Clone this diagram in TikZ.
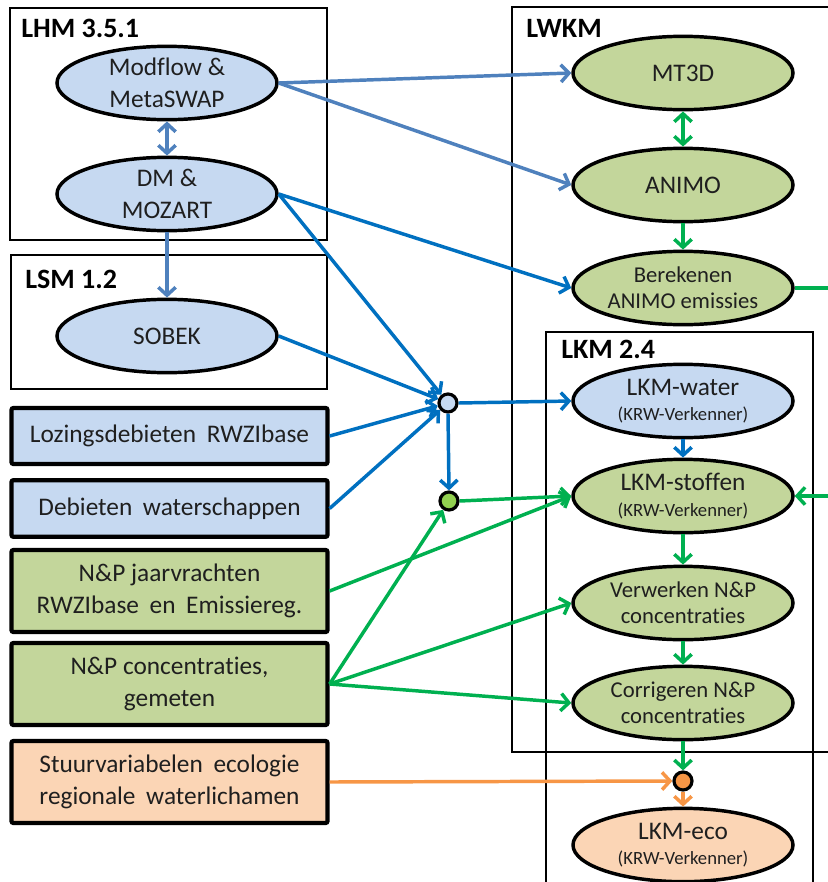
\documentclass[tikz,border=0pt]{standalone}
\usepackage{fontspec}
\setmainfont{Carlito}[Ligatures={NoCommon}]
\usetikzlibrary{shapes.geometric,arrows.meta}
\definecolor{fblue}{RGB}{198,217,241}
\definecolor{fgreen}{RGB}{195,214,155}
\definecolor{forange}{RGB}{251,213,181}
\definecolor{lblue}{RGB}{79,129,189}
\definecolor{lblue2}{RGB}{0,112,192}
\definecolor{lgreen}{RGB}{0,176,80}
\definecolor{lorange}{RGB}{247,150,70}
\definecolor{dgreen}{RGB}{146,208,80}
\newcommand{\ws}{\hspace{0.42em}}
\begin{document}
\begin{tikzpicture}[x=0.75pt,y=-0.75pt,
  ell/.style={ellipse, draw=black, line width=2.6pt, minimum width=165pt, minimum height=55pt, inner sep=0pt},
  ebl/.style={ell, fill=fblue},
  egr/.style={ell, fill=fgreen},
  eor/.style={ell, fill=forange},
  etxt/.style={inner sep=0pt, align=center, text=black!88, font=\fontsize{19}{24}\selectfont},
  etxs/.style={inner sep=0pt, align=center, text=black!88, font=\fontsize{17}{19.5}\selectfont},
  inbox/.style={rectangle, draw=black, line width=3.2pt, rounded corners=1.5pt, minimum width=237pt, inner sep=0pt, align=center, text=black!88, font=\fontsize{19}{24.5}\selectfont},
  frame/.style={draw=black, line width=1.6pt},
  flab/.style={font=\bfseries\fontsize{21}{24}\selectfont, anchor=base west, inner sep=0pt},
  dot/.style={circle, draw=black, line width=2.4pt, minimum size=13.5pt, inner sep=0pt},
  arw/.style={line width=2.6pt, -{Straight Barb[length=6pt,width=13pt]}},
  arw2/.style={line width=2.6pt, {Straight Barb[length=6pt,width=13pt]}-{Straight Barb[length=6pt,width=13pt]}},
  cb1/.style={draw=lblue},
  cb2/.style={draw=lblue2},
  cg/.style={draw=lgreen},
  co/.style={draw=lorange}
]
\useasboundingbox (0,0) rectangle (828,882);

% frames
\draw[frame] (10,8) rectangle (327,240);
\draw[frame] (11,255) rectangle (327,389);
\draw[frame] (512,7) rectangle (845,752);
\draw[frame] (546,332) rectangle (813,900);
\node[flab] (lhm) at (21,37) {LHM 3.5.1};
\node[flab] (lsm) at (25,288) {LSM 1.2};
\node[flab] (lwkm) at (526,37) {LWKM};
\node[flab] (lkm) at (561,358) {LKM 2.4};

% left ellipses
\node[ebl] (mod) at (167,83) {};
\node[etxt] (modt) at (mod) {Modflow \&\\MetaSWAP};
\node[ebl] (dm) at (167,194) {};
\node[etxt] (dmt) at (dm) {DM \&\\MOZART};
\node[ebl] (sobek) at (167,336) {};
\node[etxt] (sobekt) at (sobek) {SOBEK};

% input boxes
\node[inbox, fill=fblue, minimum height=42pt] (loz) at (169.5,436) {Lozingsdebieten\ws RWZIbase};
\node[inbox, fill=fblue, minimum height=42.5pt] (deb) at (169.5,508.5) {Debieten\ws waterschappen};
\node[inbox, fill=fgreen, minimum height=61.5pt] (npj) at (169.5,591) {N\&P jaarvrachten\\RWZIbase\ws en\ws Emissiereg.};
\node[inbox, fill=fgreen, minimum height=61.5pt] (npc) at (169.5,684) {N\&P concentraties,\\gemeten};
\node[inbox, fill=forange, minimum height=61.5pt] (stuur) at (169.5,782) {Stuurvariabelen\ws ecologie\\regionale\ws waterlichamen};

% right ellipses
\node[egr] (mt3d) at (683,73) {};
\node[etxt] (mt3dt) at (mt3d) {MT3D};
\node[egr] (animo) at (683,185) {};
\node[etxt] (animot) at (animo) {ANIMO};
\node[egr] (berek) at (683,288) {};
\node[etxs] (berekt) at (berek) {Berekenen\\ANIMO emissies};
\node[ebl] (water) at (683,401) {};
\node[etxt] (watert) at (water) {LKM-water\\[-5pt]{\fontsize{14}{16}\selectfont (KRW-Verkenner)}};
\node[egr] (stof) at (683,496) {};
\node[etxt] (stoft) at (stof) {LKM-stoffen\\[-5pt]{\fontsize{14}{16}\selectfont (KRW-Verkenner)}};
\node[egr] (verw) at (683,603) {};
\node[etxs] (verwt) at (verw) {Verwerken N\&P\\concentraties};
\node[egr] (corr) at (683,703) {};
\node[etxs] (corrt) at (corr) {Corrigeren N\&P\\concentraties};
\node[eor] (eco) at (683,845) {};
\node[etxt] (ecot) at (eco) {LKM-eco\\[-5pt]{\fontsize{14}{16}\selectfont (KRW-Verkenner)}};

% junction dots
\node[dot, fill=fblue] (bc) at (448,403) {};
\node[dot, fill=dgreen] (gc) at (449,501) {};
\node[dot, fill=lorange] (oc) at (683,781) {};
\coordinate (edge) at (830,0);

% connectors
\draw[arw, cb1] (mod.east) -- (mt3d.west);
\draw[arw, cb1] (mod.east) -- (animo.west);
\draw[arw2, cb1] (mod.south) -- (dm.north);
\draw[arw, cb1] (dm.south) -- (sobek.north);
\draw[arw, cb2] (dm.east) -- (berek.west);
\draw[arw, cb2] (dm.east) -- (bc);
\draw[arw, cb2] (sobek.east) -- (bc);
\draw[arw, cb2] (loz.east) -- (bc);
\draw[arw, cb2] (deb.east) -- (bc);
\draw[arw, cb2] (bc.east) -- (water.west);
\draw[arw, cb2] (bc.south) -- (gc.north);
\draw[arw, cg] (gc.east) -- (stof.west);
\draw[arw, cg] (npj.east) -- (stof.west);
\draw[arw, cg] (npc.east) -- (gc);
\draw[arw, cg] (npc.east) -- (verw.west);
\draw[arw, cg] (npc.east) -- (corr.west);
\draw[arw, co] (stuur.east) -- (oc.west);
\draw[arw, co] (oc.south) -- (eco.north);
\draw[arw, cg] (corr.south) -- (oc.north);
\draw[arw2, cg] (mt3d.south) -- (animo.north);
\draw[arw, cg] (animo.south) -- (berek.north);
\draw[arw, cb2] (water.south) -- (stof.north);
\draw[arw, cg] (stof.south) -- (verw.north);
\draw[arw, cg] (verw.south) -- (corr.north);
\draw[arw, cg] (berek.east) -- (berek.east -| edge) -- (stof.east -| edge) -- (stof.east);
\end{tikzpicture}
\end{document}
